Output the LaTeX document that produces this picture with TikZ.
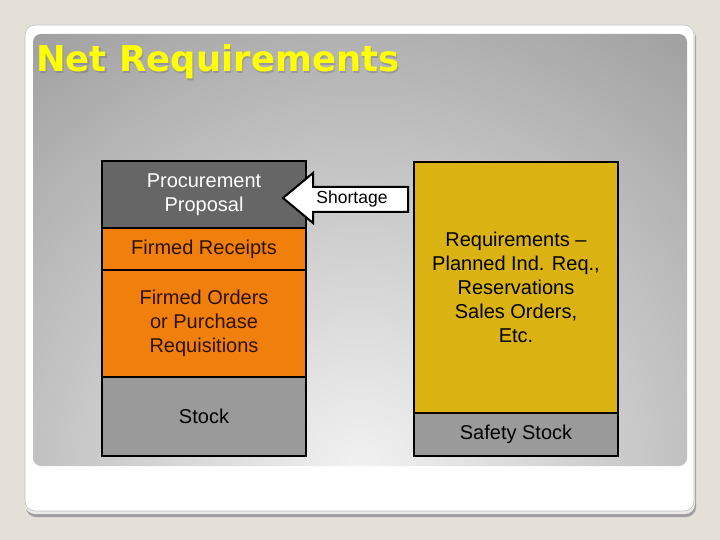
\documentclass[tikz,border=0pt]{standalone}
\usepackage{fontspec}
\setmainfont{Liberation Sans}
\newfontfamily\titlefont{DejaVu Sans}
\definecolor{bgc}{HTML}{E5E0D7}
\definecolor{darkbox}{HTML}{666666}
\definecolor{orangebox}{HTML}{F07F0C}
\definecolor{greybox}{HTML}{9A9A9A}
\definecolor{yellowbox}{HTML}{DAB312}
\definecolor{browntext}{HTML}{2E1200}
\definecolor{titley}{HTML}{FFFF00}
\definecolor{panelin}{HTML}{F2F2F2}
\definecolor{panelout}{HTML}{9E9E9E}
\tikzset{
  blk/.style={draw=black, line width=2pt, inner sep=0pt, align=center,
    font=\fontsize{20}{24}\selectfont},
}
\begin{document}
\begin{tikzpicture}[x=1pt,y=-1pt]
\useasboundingbox (0,0) rectangle (720,540);
\fill[bgc] (0,0) rectangle (720,540);
% card shadow and card
\fill[black!38, rounded corners=10pt] (26,28) rectangle (696,517);
\fill[black!8, rounded corners=10pt] (25,25) rectangle (695,514);
\filldraw[white, draw=black!25, line width=0.6pt, rounded corners=10pt] (25,25) rectangle (694,511);
% gradient panel
\begin{scope}
  \clip[rounded corners=8pt] (33,34) rectangle (687,466);
  \shade[inner color=panelin, outer color=panelout] (360,470) circle (560);
\end{scope}
% title
\node[anchor=base west, inner sep=0pt, text=black!60, opacity=0.35,
  font=\titlefont\bfseries\fontsize{35.5}{40}\selectfont] at (37.2,73.2) {Net Requirements};
\node[anchor=base west, inner sep=0pt, text=titley,
  font=\titlefont\bfseries\fontsize{35.5}{40}\selectfont] (title) at (36,72) {Net Requirements};
% left column
\node[blk, fill=darkbox, text=white, minimum width=204pt, minimum height=67pt] (pp) at (204,194.5) {Procurement\\Proposal};
\node[blk, fill=orangebox, text=browntext, minimum width=204pt, minimum height=42pt] (fr) at (204,249) {Firmed Receipts};
\node[blk, fill=orangebox, text=browntext, minimum width=204pt, minimum height=107pt] (fo) at (204,323.5) {Firmed Orders\\or Purchase\\Requisitions};
\node[blk, fill=greybox, text=black, minimum width=204pt, minimum height=79pt] (st) at (204,416.5) {Stock};
% right column
\node[blk, fill=yellowbox, text=black, minimum width=204pt, minimum height=251pt] (rq) at (516,287.5) {Requirements --\\Planned Ind. Req.,\\Reservations\\Sales Orders,\\Etc.};
\node[blk, fill=greybox, text=black, minimum width=204pt, minimum height=43pt] (ss) at (516,434.5) {Safety Stock};
% shortage arrow
\filldraw[fill=white, draw=black, line width=2pt, line join=miter]
  (283,198) -- (313,173) -- (313,187) -- (408,187) -- (408,212) -- (313,212) -- (313,223) -- cycle;
\node[inner sep=0pt, font=\fontsize{17.5}{20}\selectfont] (short) at (352,199) {Shortage};
\end{tikzpicture}
\end{document}
